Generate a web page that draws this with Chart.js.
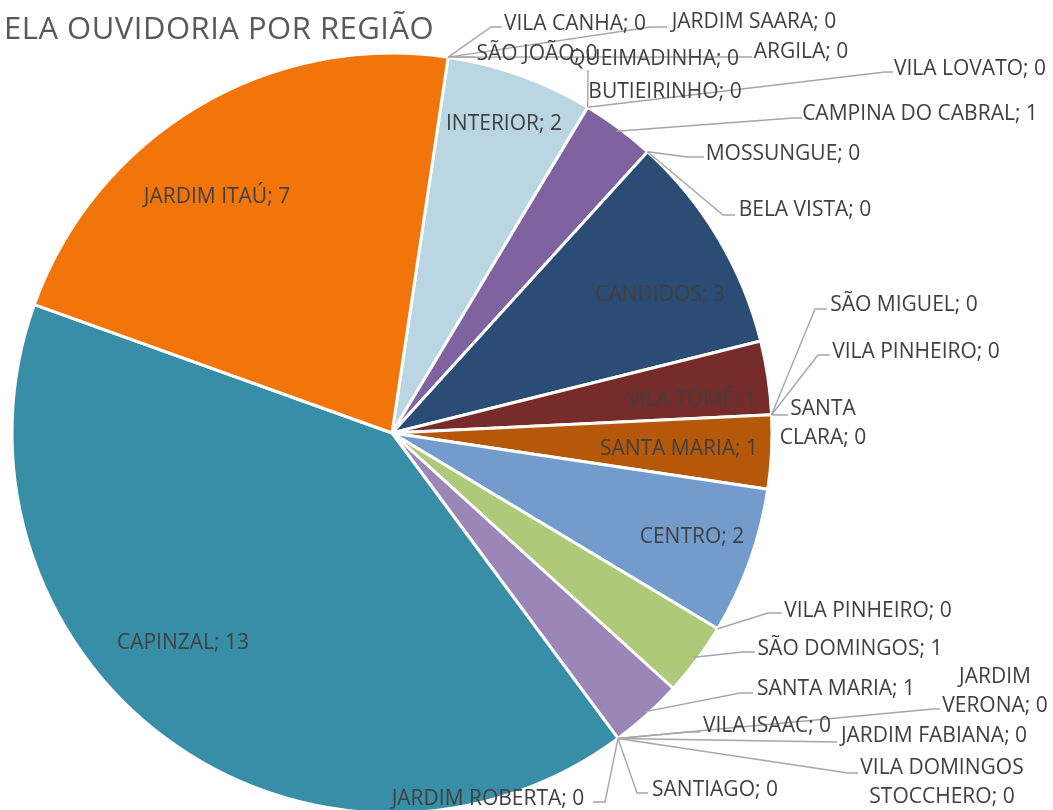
<!DOCTYPE html>
<html>
<head>
<meta charset="utf-8">
<script src="https://cdn.jsdelivr.net/npm/chart.js@4.4.0/dist/chart.umd.min.js"></script>
<style>
  html, body { margin: 0; padding: 0; background: #fff; overflow: hidden; }
  #wrap { position: relative; width: 1053px; height: 815px; }
</style>
</head>
<body>
<div id="wrap"><canvas id="regiaoChart"></canvas></div>
<script>
// dados (ordem horaria a partir do topo)
const regioes = [
  "VILA CANHA", "SÃO JOÃO", "JARDIM SAARA", "ARGILA", "INTERIOR",
  "QUEIMADINHA", "BUTIEIRINHO", "VILA LOVATO", "CAMPINA DO CABRAL", "MOSSUNGUE",
  "BELA VISTA", "CANDIDOS", "VILA TOMÉ", "SÃO MIGUEL", "VILA PINHEIRO",
  "SANTA CLARA", "SANTA MARIA", "CENTRO", "VILA PINHEIRO", "SÃO DOMINGOS",
  "SANTA MARIA", "VILA ISAAC", "JARDIM VERONA", "JARDIM FABIANA", "VILA DOMINGOS STOCCHERO",
  "SANTIAGO", "JARDIM ROBERTA", "CAPINZAL", "JARDIM ITAÚ"
];
const quantidades = [
  0, 0, 0, 0, 2,
  0, 0, 0, 1, 0,
  0, 3, 1, 0, 0,
  0, 1, 2, 0, 1,
  1, 0, 0, 0, 0,
  0, 0, 13, 7
];
const cores = [
  "#a5a5a5", "#a5a5a5", "#a5a5a5", "#a5a5a5", "#bad6e2",
  "#a5a5a5", "#a5a5a5", "#a5a5a5", "#7f63a1", "#a5a5a5",
  "#a5a5a5", "#2b4c74", "#762c2b", "#a5a5a5", "#a5a5a5",
  "#a5a5a5", "#b55809", "#739bcc", "#a5a5a5", "#afc97a",
  "#9b87b7", "#a5a5a5", "#a5a5a5", "#a5a5a5", "#a5a5a5",
  "#a5a5a5", "#a5a5a5", "#378ea6", "#f2750c"
];

// posicao dos rotulos (centro do texto) e linhas de chamada [cotovelo, fim]
const rotulosPos = [
  { x: 575, y: 22, linha: [[491, 27], [502, 27]] },
  { x: 537, y: 52, linha: [[466, 57], [475, 57]] },
  { x: 754, y: 20, linha: [[651, 27], [667, 27]] },
  { x: 801, y: 50, linha: [[745, 57], [752, 57]] },
  { x: 504, y: 122 },
  { x: 654, y: 57, linha: [[588, 70], [588, 70]] },
  { x: 665, y: 90 },
  { x: 970, y: 67, linha: [[885, 72], [893, 72]] },
  { x: 920, y: 112, linha: [[793, 118], [802, 118]], dentro: true },
  { x: 783, y: 152, linha: [[687, 157], [704, 157]] },
  { x: 805, y: 208, linha: [[723, 215], [735, 215]] },
  { x: 660, y: 293 },
  { x: 692, y: 398 },
  { x: 904, y: 303, linha: [[815, 309], [827, 309]] },
  { x: 916, y: 350, linha: [[818, 355], [830, 355]] },
  { x: 823, y: 422, linha: [[780, 415], [788, 415]], quebra: ["SANTA", "CLARA; 0"] },
  { x: 679, y: 447 },
  { x: 692, y: 535 },
  { x: 868, y: 609, linha: [[768, 613], [782, 613]] },
  { x: 850, y: 647, linha: [[743, 652], [755, 652]], dentro: true },
  { x: 836, y: 687, linha: [[740, 693], [753, 693]], dentro: true },
  { x: 767, y: 724, linha: [[688, 732], [700, 732]] },
  { x: 995, y: 690, linha: [[933, 709], [940, 709]], quebra: ["JARDIM", "VERONA; 0"] },
  { x: 934, y: 734, linha: [[837, 742], [837, 742]] },
  { x: 942, y: 781, linha: [[848, 773], [858, 773]], quebra: ["VILA DOMINGOS", "STOCCHERO; 0"] },
  { x: 715, y: 788, linha: [[637, 793], [648, 793]] },
  { x: 488, y: 797, linha: [[605, 802], [593, 802]] },
  { x: 183, y: 641 },
  { x: 217, y: 195 }
];

const tituloTexto = "ELA OUVIDORIA POR REGIÃO";

const rotulosPlugin = {
  id: "rotulos",
  afterDatasetsDraw(chart) {
    const ctx = chart.ctx;
    const arcos = chart.getDatasetMeta(0).data;
    ctx.save();
    // linhas de chamada
    ctx.strokeStyle = "#a6a6a6";
    ctx.lineWidth = 1.4;
    arcos.forEach((arco, i) => {
      const p = rotulosPos[i];
      if (!p.linha) return;
      let ang, r;
      if (p.dentro) {
        ang = (arco.startAngle + arco.endAngle) / 2;
        r = arco.outerRadius - 4;
      } else {
        ang = arco.startAngle;
        r = arco.outerRadius;
      }
      const ax = arco.x + Math.cos(ang) * r;
      const ay = arco.y + Math.sin(ang) * r;
      ctx.beginPath();
      ctx.moveTo(ax, ay);
      ctx.lineTo(p.linha[0][0], p.linha[0][1]);
      ctx.lineTo(p.linha[1][0], p.linha[1][1]);
      ctx.stroke();
    });
    // textos
    ctx.fillStyle = "#404040";
    ctx.font = "21px 'Open Sans'";
    ctx.textAlign = "center";
    ctx.textBaseline = "alphabetic";
    arcos.forEach((arco, i) => {
      const p = rotulosPos[i];
      const linhas = p.quebra || [regioes[i] + "; " + quantidades[i]];
      const alt = 29;
      const y0 = p.y - (linhas.length - 1) * alt / 2;
      linhas.forEach((t, k) => {
        ctx.fillText(t, p.x, y0 + k * alt + 7.5);
      });
    });
    // titulo
    ctx.fillStyle = "#595959";
    ctx.font = "31px 'Open Sans'";
    ctx.letterSpacing = "0.5px";
    ctx.textAlign = "left";
    ctx.fillText(tituloTexto, 4, 39);
    ctx.restore();
  }
};

new Chart(document.getElementById("regiaoChart"), {
  type: "pie",
  data: {
    labels: regioes,
    datasets: [{
      label: "Ouvidoria",
      data: quantidades,
      backgroundColor: cores,
      borderColor: "#ffffff",
      borderWidth: 3
    }]
  },
  options: {
    responsive: true,
    maintainAspectRatio: false,
    animation: false,
    rotation: 8.5,
    layout: { padding: { left: 10.5, right: 279.5, top: 51.5, bottom: 0.5 } },
    plugins: {
      legend: { display: false },
      title: { display: false },
      tooltip: { enabled: true }
    }
  },
  plugins: [rotulosPlugin]
});
</script>
</body>
</html>
